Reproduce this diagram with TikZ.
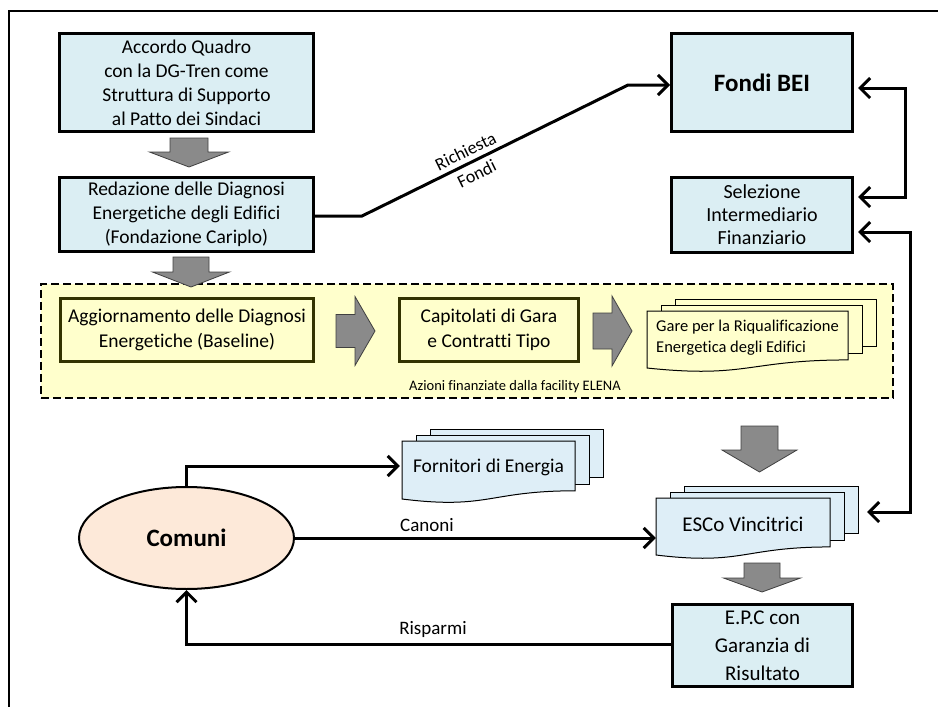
\documentclass[tikz,border=0pt]{standalone}
\usepackage{fontspec}
\setmainfont[Ligatures=NoCommon]{Carlito}
\usetikzlibrary{arrows.meta,shapes.geometric,calc}
\definecolor{boxblue}{HTML}{DBEEF3}
\definecolor{docblue}{HTML}{DEEEF7}
\definecolor{bandyellow}{HTML}{FFFFCC}
\definecolor{peachfill}{HTML}{FDE9D9}
\definecolor{arrowgray}{HTML}{8A8A8A}
\definecolor{darkolive}{HTML}{333300}
\newcommand\fsz[2]{\fontsize{#1}{#2}\selectfont}
\tikzset{
 bluebox/.style={draw=black, line width=3pt, fill=boxblue, align=center, inner sep=0pt, font=\fsz{19.5}{24}},
 bandbox/.style={draw=darkolive, line width=3pt, fill=bandyellow, align=center, inner sep=0pt, font=\fsz{19.5}{25}},
 docshape/.style={draw=black, line width=1pt},
 blockarrow/.style={draw=black!75, line width=0.8pt, fill=arrowgray},
 conn/.style={draw=black, line width=3pt, -{Straight Barb[length=10pt,width=20pt]}},
 dbl/.style={draw=black, line width=3pt, {Straight Barb[length=10pt,width=20pt]}-{Straight Barb[length=10pt,width=20pt]}},
 lbl/.style={inner sep=0pt, font=\fsz{19}{23}},
}
% multi-document: name, x1, y1, x2, yLeftBottom, fill, font, text
\newcommand\mdoc[8]{%
 \pgfmathsetmacro\mdH{(#5-#3)/0.934}%
 \pgfmathsetmacro\mdR{#3+0.802*\mdH}%
 \pgfmathsetmacro\mdC{#3+1.1075*\mdH}%
 \pgfmathsetmacro\mdM{(#2+#4)/2}%
 \pgfmathsetmacro\mdW{#4-#2}%
 \pgfmathsetmacro\mdY{#3+0.43*\mdH}%
 \path[docshape, fill=#6] (#2+28,#3-12) rectangle (#4+28,\mdR-13);
 \path[docshape, fill=#6] (#2+14,#3-6) rectangle (#4+14,\mdR-6);
 \path[docshape, fill=#6] (#2,#3) -- (#4,#3) -- (#4,\mdR) .. controls (\mdM,\mdR) and (\mdM,\mdC) .. (#2,#5) -- cycle;
 \node[inner sep=0pt, minimum width=\mdW pt, minimum height=20pt, align=left, font=#7] (#1) at (\mdM,\mdY) {#8};
 \coordinate (#1-back) at (#4+28,#3);
}
% block arrow down: xc, top, headstart, tip, half body, half head
\newcommand\bdown[6]{\draw[blockarrow] (#1-#5,#2) -- (#1+#5,#2) -- (#1+#5,#3) -- (#1+#6,#3) -- (#1,#4) -- (#1-#6,#3) -- (#1-#5,#3) -- cycle;}
% block arrow right: yc, left, headstart, tip, half body, half head
\newcommand\bright[6]{\draw[blockarrow] (#2,#1-#5) -- (#3,#1-#5) -- (#3,#1-#6) -- (#4,#1) -- (#3,#1+#6) -- (#3,#1+#5) -- (#2,#1+#5) -- cycle;}
\begin{document}
\begin{tikzpicture}[x=1pt,y=-1pt]
\useasboundingbox (0,0) rectangle (938,707);
% frame
\draw[line width=2pt] (9,707) -- (9,11) -- (938,11);

% band
\node[draw=black, line width=2pt, dash pattern=on 8pt off 4pt, fill=bandyellow, minimum width=852pt, minimum height=114pt, inner sep=0pt] (band) at (467,341) {};
\node[inner sep=0pt, font=\fsz{14.5}{17}] (elena) at (515,387) {Azioni finanziate dalla facility ELENA};

% boxes
\node[bluebox, minimum width=254pt, minimum height=98pt] (box1) at (186.5,82.5) {Accordo Quadro\\con la DG-Tren come\\Struttura di Supporto\\al Patto dei Sindaci};
\node[bluebox, minimum width=254pt, minimum height=74pt] (box2) at (186.5,214.5) {Redazione delle Diagnosi\\Energetiche degli Edifici\\(Fondazione Cariplo)};
\node[bluebox, minimum width=181pt, minimum height=98pt, font=\fsz{25}{30}\bfseries] (fondi) at (762,82.5) {Fondi BEI};
\node[bluebox, minimum width=181pt, minimum height=75pt, font=\fsz{20}{23}] (sel) at (762,215) {Selezione\\Intermediario\\Finanziario};
\node[bluebox, minimum width=180pt, minimum height=82pt, font=\fsz{21}{28}] (epc) at (762.5,645.5) {E.P.C con\\Garanzia di\\Risultato};
\node[bandbox, minimum width=253pt, minimum height=63pt] (agg) at (187,330) {Aggiornamento delle Diagnosi\\Energetiche (Baseline)};
\node[bandbox, minimum width=179pt, minimum height=63pt] (cap) at (489,330) {Capitolati di Gara\\e Contratti Tipo};

% block arrows
\bdown{189}{138}{152}{167}{19}{39.5}
\bdown{191}{257}{272}{287}{18}{38.5}
\bdown{759.5}{426}{450}{472}{18.5}{37.5}
\bdown{762}{563}{578}{592}{18}{38.5}
\bright{331}{336}{355}{375}{16.5}{34.5}
\bright{331}{593}{612}{632}{18}{35}

% multi documents
\mdoc{gare}{647}{311}{848}{368}{bandyellow}{\fsz{16.5}{21}}{Gare per la Riqualificazione\\Energetica degli Edifici}
\mdoc{forn}{402}{441}{575}{499}{docblue}{\fsz{19.5}{24}}{Fornitori di Energia}
\mdoc{esco}{656}{498}{830}{555}{docblue}{\fsz{21}{25}}{ESCo Vincitrici}

% Comuni
\node[ellipse, draw=black, line width=2pt, fill=peachfill, minimum width=215pt, minimum height=102pt, inner sep=0pt, font=\fsz{25}{30}\bfseries] (comuni) at (186.5,538) {Comuni};

% connectors
\coordinate (k1) at (362,216);
\coordinate (k2) at (628,85);
\draw[conn] (box2.east |- k1) -- (k1) -- node[sloped, pos=0.41, align=center, inner sep=0pt, font=\fsz{18}{25}] {Richiesta\\Fondi} (k2) -- (fondi.west |- k2);

\coordinate (r1) at (905,88);
\coordinate (r2) at (905,197);
\draw[dbl, shorten <=4pt, shorten >=4pt] (fondi.east |- r1) -- (r1) -- (r2) -- (sel.east |- r2);

\coordinate (r3) at (910,232);
\coordinate (r4) at (910,512);
\draw[dbl, shorten <=4pt, shorten >=9pt] (sel.east |- r3) -- (r3) -- (r4) -- (esco-back |- r4);

\coordinate (c1) at (186.5,466);
\draw[conn, shorten >=2pt] (comuni.north) -- (c1) -- (forn.west |- c1);

\draw[conn] (comuni.east) -- (esco.west |- comuni.east);
\node[lbl] (canoni) at (427,525) {Canoni};

\coordinate (c2) at (186.5,644);
\draw[conn] (epc.west |- c2) -- (c2) -- (comuni.south);
\node[lbl] (risparmi) at (433,629) {Risparmi};
\end{tikzpicture}
\end{document}
